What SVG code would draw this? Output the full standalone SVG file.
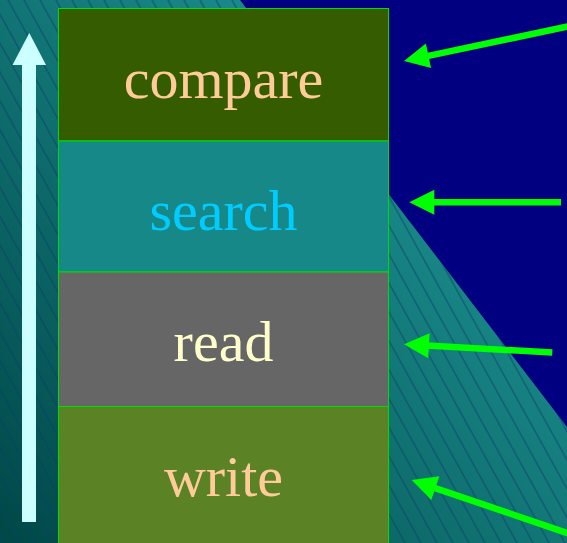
<svg xmlns="http://www.w3.org/2000/svg" width="567" height="543" viewBox="0 0 567 543">
  <defs>
    <linearGradient id="tealFade" gradientUnits="userSpaceOnUse" x1="0" y1="543" x2="400" y2="150">
      <stop offset="0" stop-color="#004747"/>
      <stop offset="1" stop-color="#1a8a8a"/>
    </linearGradient>
    <pattern id="hatch" patternUnits="userSpaceOnUse" width="16" height="16" patternTransform="skewX(29)">
      <rect x="7.5" y="0" width="1" height="16" fill="#083f6a" fill-opacity="0.85"/>
    </pattern>
  </defs>
  <style>
    .box { stroke: #00dd00; stroke-width: 1; }
    .label { font-family: "Liberation Serif", "Times New Roman", serif; font-size: 58px; text-anchor: middle; }
    .shaft { stroke: #00ff00; stroke-width: 6.5; fill: none; }
    .tip { fill: #00ff00; }
  </style>

  <!-- backdrop: navy field with hatched teal wedge -->
  <rect x="0" y="0" width="567" height="543" fill="#000080"/>
  <polygon points="0,0 240,0 567,427 567,543 0,543" fill="url(#tealFade)"/>
  <polygon points="0,0 240,0 567,427 567,543 0,543" fill="url(#hatch)"/>

  <!-- upward arrow on the left -->
  <g id="up-arrow" fill="#ccffff">
    <rect x="22" y="64" width="14" height="458"/>
    <polygon points="29.3,33 46,65 12.5,65"/>
  </g>

  <!-- stacked layers -->
  <g id="compare">
    <rect class="box" x="58.5" y="8.5" width="330" height="132.5" fill="#365c00"/>
    <text class="label" x="223.5" y="98" fill="#ffcc99">compare</text>
  </g>
  <g id="search">
    <rect class="box" x="58.5" y="141" width="330" height="131" fill="#178888"/>
    <text class="label" x="223.5" y="230" fill="#00ccff">search</text>
  </g>
  <g id="read">
    <rect class="box" x="58.5" y="272" width="330" height="134.5" fill="#666666"/>
    <text class="label" x="223.5" y="361" fill="#ffffcc">read</text>
  </g>
  <g id="write">
    <rect class="box" x="58.5" y="406.5" width="330" height="140" fill="#5c8226"/>
    <text class="label" x="223.5" y="496" fill="#ffcc99">write</text>
  </g>

  <!-- pointers from the right -->
  <g id="connectors">
    <g>
      <line class="shaft" x1="570" y1="26" x2="426" y2="56.4"/>
      <polygon class="tip" points="404,61 425.9,43.6 431.05,68.07"/>
    </g>
    <g>
      <line class="shaft" x1="561" y1="202.3" x2="432" y2="202.3"/>
      <polygon class="tip" points="409.3,202.3 434.3,189.8 434.3,214.8"/>
    </g>
    <g>
      <line class="shaft" x1="552.3" y1="352.5" x2="427" y2="345.6"/>
      <polygon class="tip" points="404,344.3 429.65,333.2 428.27,358.16"/>
    </g>
    <g>
      <line class="shaft" x1="570" y1="534" x2="433" y2="487.3"/>
      <polygon class="tip" points="411.7,480 439.4,476.2 431.3,499.9"/>
    </g>
  </g>
</svg>
